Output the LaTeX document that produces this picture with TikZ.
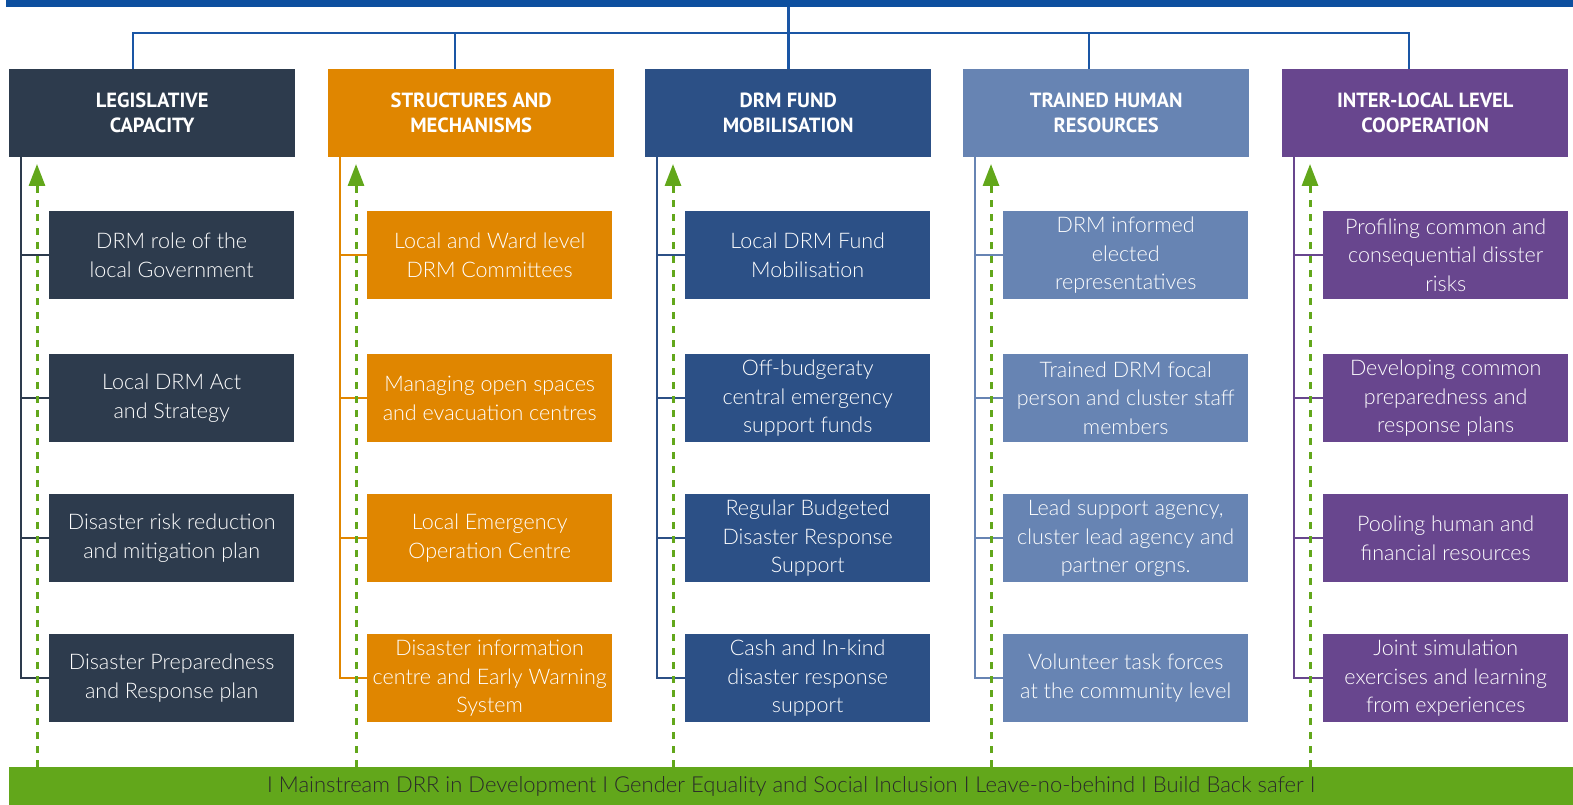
\documentclass[tikz,border=0pt]{standalone}
\usepackage{fontspec}
\setmainfont{Lato Light}
\newfontfamily\barfont{Lato}
\newfontfamily\headfont{PT Sans}
\usetikzlibrary{arrows.meta}
\definecolor{cA}{HTML}{2D3B4D}
\definecolor{cB}{HTML}{E08600}
\definecolor{cC}{HTML}{2C5086}
\definecolor{cD}{HTML}{6784B3}
\definecolor{cE}{HTML}{68468E}
\definecolor{topblue}{HTML}{0D4F9F}
\definecolor{linkblue}{HTML}{1A56A5}
\definecolor{gbar}{HTML}{62A71B}
\definecolor{bartext}{HTML}{2A2A2A}
\tikzset{
 headbox/.style={fill=#1, anchor=north west, minimum width=286pt, minimum height=88pt, inner sep=0pt, text=white, align=center, font=\headfont\bfseries\fontsize{20.5}{25}\selectfont},
 childbox/.style={fill=#1, anchor=north west, minimum width=245pt, minimum height=88pt, inner sep=0pt, text=white, align=center, font=\fontsize{21.5}{28.5}\selectfont},
 toplink/.style={draw=linkblue, line width=2.8pt},
 collink/.style={draw=#1, line width=2.4pt},
 garrow/.style={draw=gbar, line width=3pt, dash pattern=on 7pt off 7pt, -{Triangle[width=16pt,length=22pt]}}
}
\begin{document}
\begin{tikzpicture}[x=1pt,y=-1pt]
\useasboundingbox (0,0) rectangle (1573,805);
\node[fill=topblue, anchor=north west, minimum width=1567pt, minimum height=7pt, inner sep=0pt] (topbar) at (6,0) {};
\node[fill=gbar, anchor=north west, minimum width=1564pt, minimum height=38pt, inner sep=0pt, text=bartext, font=\fontsize{22}{24}\selectfont] (bar) at (9,767) {I Mainstream DRR in Development I Gender Equality and Social Inclusion I Leave-no-behind I Build Back safer I};

% headers
\node[headbox=cA] (h0) at (9,69) {LEGISLATIVE\\CAPACITY};
\node[headbox=cB] (h1) at (328,69) {STRUCTURES AND\\MECHANISMS};
\node[headbox=cC] (h2) at (645,69) {DRM FUND\\MOBILISATION};
\node[headbox=cD] (h3) at (963,69) {TRAINED HUMAN\\RESOURCES};
\node[headbox=cE] (h4) at (1282,69) {INTER-LOCAL LEVEL\\COOPERATION};

% column 1
\node[childbox=cA] (c0-1) at (49,211) {DRM role of the\\local Government};
\node[childbox=cA] (c0-2) at (49,354) {Local DRM Act\\and Strategy};
\node[childbox=cA] (c0-3) at (49,494) {Disaster risk reduction\\and mitigation plan};
\node[childbox=cA] (c0-4) at (49,634) {Disaster Preparedness\\and Response plan};
% column 2
\node[childbox=cB] (c1-1) at (367,211) {Local and Ward level\\DRM Committees};
\node[childbox=cB] (c1-2) at (367,354) {Managing open spaces\\and evacuation centres};
\node[childbox=cB] (c1-3) at (367,494) {Local Emergency\\Operation Centre};
\node[childbox=cB] (c1-4) at (367,634) {Disaster information\\centre and Early Warning\\System};
% column 3
\node[childbox=cC] (c2-1) at (685,211) {Local DRM Fund\\Mobilisation};
\node[childbox=cC] (c2-2) at (685,354) {Off-budgeraty\\central emergency\\support funds};
\node[childbox=cC] (c2-3) at (685,494) {Regular Budgeted\\Disaster Response\\Support};
\node[childbox=cC] (c2-4) at (685,634) {Cash and In-kind\\disaster response\\support};
% column 4
\node[childbox=cD] (c3-1) at (1003,211) {DRM informed\\elected\\representatives};
\node[childbox=cD] (c3-2) at (1003,354) {Trained DRM focal\\person and cluster staff\\members};
\node[childbox=cD] (c3-3) at (1003,494) {Lead support agency,\\cluster lead agency and\\partner orgns.};
\node[childbox=cD] (c3-4) at (1003,634) {Volunteer task forces\\at the community level};
% column 5
\node[childbox=cE] (c4-1) at (1323,211) {Profiling common and\\consequential disster\\risks};
\node[childbox=cE] (c4-2) at (1323,354) {Developing common\\preparedness and\\response plans};
\node[childbox=cE] (c4-3) at (1323,494) {Pooling human and\\financial resources};
\node[childbox=cE] (c4-4) at (1323,634) {Joint simulation\\exercises and learning\\from experiences};

% top connectors
\coordinate (j0) at (133,33);
\coordinate (j1) at (455,33);
\coordinate (j3) at (1089,33);
\coordinate (j4) at (1409,33);
\draw[toplink] (topbar.south -| h2.north) -- (h2.north);
\draw[toplink] (j0 |- h0.north) -- (j0) -- (j4) -- (j4 |- h4.north);
\draw[toplink] (j1) -- (j1 |- h1.north);
\draw[toplink] (j3) -- (j3 |- h3.north);

% column connectors and green arrows
\foreach \i/\L/\col in {0/9/cA,1/328/cB,2/645/cC,3/963/cD,4/1282/cE}{
  \coordinate (v\i) at (\L+12,0);
  \draw[collink=\col] (h\i.south -| v\i) -- (v\i |- c\i-4.west) -- (c\i-4.west);
  \foreach \j in {1,2,3}{
    \draw[collink=\col] (v\i |- c\i-\j.west) -- (c\i-\j.west);
  }
  \coordinate (a\i) at (\L+28,0);
  \coordinate (t\i) at (\L+28,164);
  \draw[garrow] (a\i |- bar.north) -- (t\i);
}
\end{tikzpicture}
\end{document}
